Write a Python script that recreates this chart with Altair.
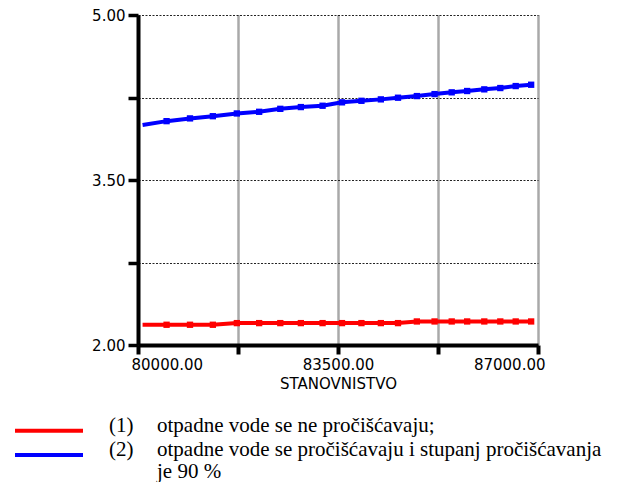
import altair as alt
import pandas as pd

# ---- data ----
population = [80080, 80500, 80910, 81310, 81730, 82120, 82490, 82850, 83230, 83570,
              83910, 84250, 84550, 84880, 85190, 85490, 85760, 86060, 86340, 86610, 86880]
series1 = [2.184, 2.184, 2.184, 2.184, 2.199, 2.199, 2.199, 2.199, 2.199, 2.199,
           2.199, 2.199, 2.199, 2.214, 2.214, 2.214, 2.214, 2.214, 2.214, 2.214, 2.214]
series2 = [4.000, 4.035, 4.060, 4.080, 4.105, 4.120, 4.147, 4.163, 4.175, 4.206,
           4.220, 4.233, 4.248, 4.263, 4.281, 4.297, 4.309, 4.324, 4.336, 4.354, 4.366]
series_names = ["(1)", "(2)"]
series_colors = ["#FF0000", "#0000FF"]
x_ticks = [80000, 81750, 83500, 85250, 87000]
y_ticks = [2.0, 2.75, 3.5, 4.25, 5.0]
x_title = "STANOVNISTVO"
legend_nums = ["(1)", "(2)"]
legend_lines = ["otpadne vode se ne pročišćavaju;",
                "otpadne vode se pročišćavaju i stupanj pročišćavanja",
                "je 90 %"]

rows = []
for name, vals in zip(series_names, [series1, series2]):
    for i, (p, v) in enumerate(zip(population, vals)):
        rows.append({"pop": p, "val": v, "series": name, "idx": i})
df = pd.DataFrame(rows)

W, H = 400, 330
color = alt.Color("series:N", scale=alt.Scale(domain=series_names, range=series_colors), legend=None)
xenc = alt.X("pop:Q", scale=alt.Scale(domain=[80000, 87000], nice=False, zero=False),
             axis=alt.Axis(values=x_ticks, format=".2f", title=x_title,
                           labelExpr="(datum.value == 80000 || datum.value == 83500 || datum.value == 87000) ? datum.label : ''",
                           labelFlush=True, labelFlushOffset=7,
                           grid=True, gridColor="#555555", gridWidth=2.5, gridDash=[1, 1],
                           domainColor="black", domainWidth=4,
                           tickColor="black", tickWidth=4, tickSize=9,
                           labelPadding=3, titleY=31, titleBaseline="top"))
yenc = alt.Y("val:Q", scale=alt.Scale(domain=[2, 5], nice=False, zero=False),
             axis=alt.Axis(values=y_ticks, format=".2f", title=None,
                           labelExpr="(datum.value == 2 || datum.value == 3.5 || datum.value == 5) ? datum.label : ''",
                           grid=True, gridColor="#222222", gridWidth=1, gridDash=[2, 1.5],
                           domainColor="black", domainWidth=4,
                           tickColor="black", tickWidth=3.5, tickSize=10,
                           labelPadding=3))

base = alt.Chart(df)
lines = base.mark_line(strokeWidth=4).encode(x=xenc, y=yenc, color=color, detail="series:N")
points = base.transform_filter("datum.idx > 0").mark_point(
    shape="square", filled=True, size=40, opacity=1).encode(x="pop:Q", y="val:Q", color=color)

# ---- manual legend below the plot ----
def rule(col, ypix):
    return alt.Chart(pd.DataFrame({"c": [col]})).mark_rule(
        color=col, strokeWidth=4, strokeCap="butt").encode(
        x=alt.value(-123), x2=alt.value(-55), y=alt.value(ypix))

def txt(s, xpix, ypix):
    return alt.Chart(pd.DataFrame({"t": [s]})).mark_text(
        font="Liberation Serif", fontSize=21, align="left", baseline="alphabetic",
        color="black").encode(text="t:N", x=alt.value(xpix), y=alt.value(ypix))

legend = [
    rule(series_colors[0], 415.7),
    rule(series_colors[1], 440.0),
    txt(legend_nums[0], -29, 416.5),
    txt(legend_nums[1], -29, 440.5),
    txt(legend_lines[0], 19, 416.5),
    txt(legend_lines[1], 19, 440.5),
    txt(legend_lines[2], 19, 463.0),
]

chart = alt.layer(lines, points, *legend).properties(
    width=W, height=H,
    autosize=alt.AutoSizeParams(type="none"),
    padding={"left": 138, "top": 15, "right": 81, "bottom": 137},
    background="white",
).configure_view(stroke=None).configure_axis(
    labelFont="DejaVu Sans", labelFontSize=15, labelColor="black",
    titleFont="DejaVu Sans", titleFontSize=15, titleFontWeight="normal", titleColor="black",
)

chart.save("out.html", embed_options={"renderer": "svg", "actions": False})
